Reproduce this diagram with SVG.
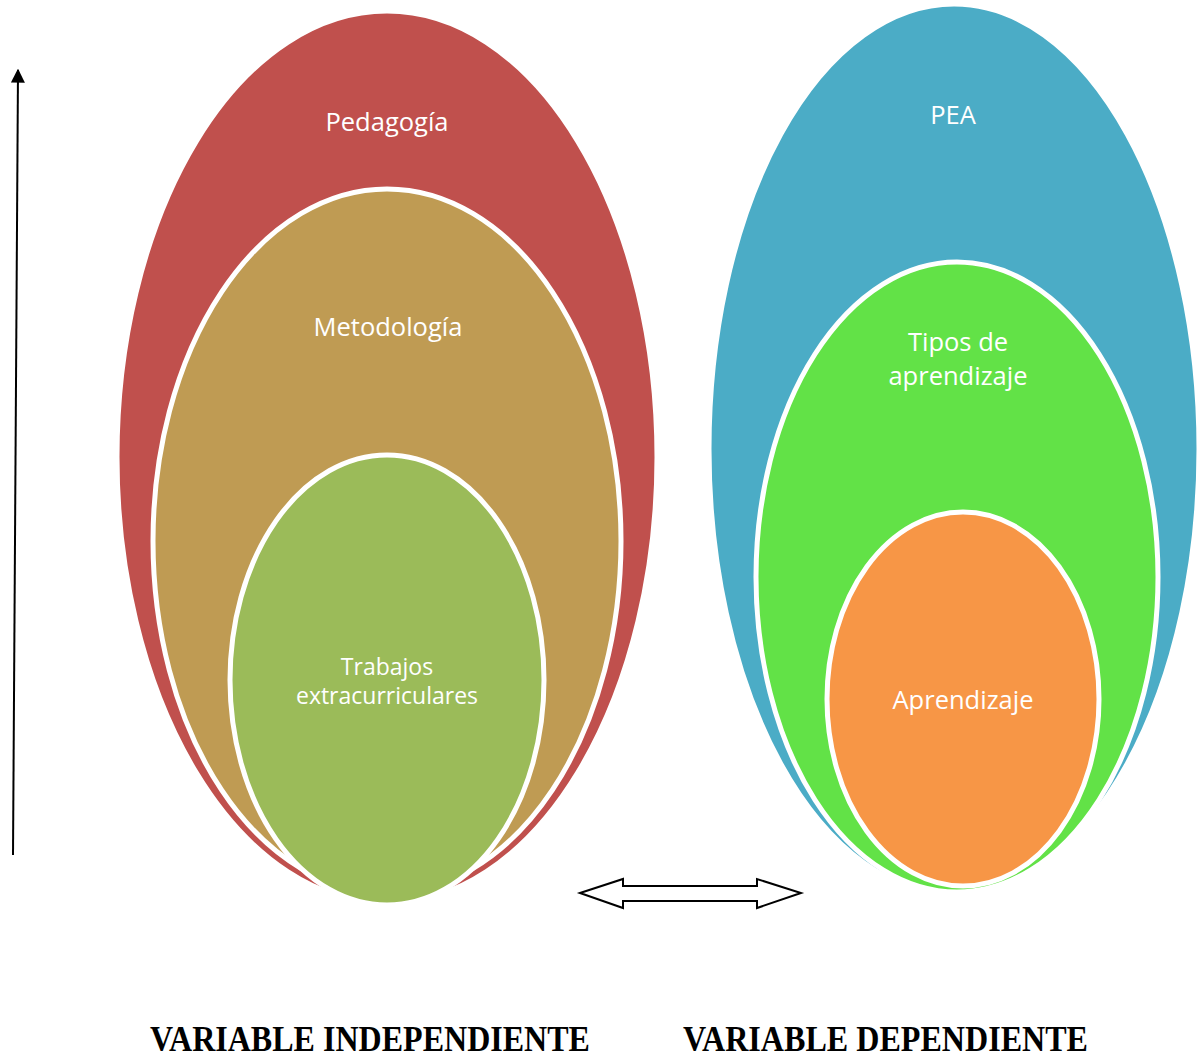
<svg xmlns="http://www.w3.org/2000/svg" width="1197" height="1058" viewBox="0 0 1197 1058">
<defs>
<style>
.e{stroke:#ffffff;stroke-width:5}
.t{font-family:"Open Sans","Liberation Sans",sans-serif;font-size:25.5px;fill:#ffffff;text-anchor:middle}
.b{font-family:"Liberation Serif","Times New Roman",serif;font-size:36px;font-weight:bold;fill:#000000}
</style>
<marker id="ah" viewBox="0 0 10 10" refX="9" refY="5" markerWidth="7" markerHeight="9" orient="auto" markerUnits="strokeWidth">
<path d="M0,0 L10,5 L0,10 z" fill="#000"/>
</marker>
</defs>
<rect width="1197" height="1058" fill="#ffffff"/>
<g id="pedagogia">
<ellipse class="e" cx="387" cy="457" rx="270" ry="446" fill="#c0504d"/>
<text class="t" x="387" y="131">Pedagogía</text>
</g>
<g id="metodologia">
<ellipse class="e" cx="387" cy="541" rx="234" ry="352" fill="#bf9b53"/>
<text class="t" x="388" y="336">Metodología</text>
</g>
<g id="trabajos">
<ellipse class="e" cx="387" cy="680" rx="157" ry="225" fill="#9bbb59"/>
<text class="t" x="387" y="675" style="font-size:23px">Trabajos</text>
<text class="t" x="387" y="704" style="font-size:23px">extracurriculares</text>
</g>
<g id="pea">
<ellipse class="e" cx="954" cy="449" rx="245" ry="445" fill="#4bacc6"/>
<text class="t" x="953" y="124">PEA</text>
</g>
<g id="tipos">
<ellipse class="e" cx="957" cy="577" rx="201" ry="315" fill="#62e247"/>
<text class="t" x="958" y="351">Tipos de</text>
<text class="t" x="958" y="385">aprendizaje</text>
</g>
<g id="aprendizaje">
<ellipse class="e" cx="963" cy="699" rx="136" ry="187" fill="#f79646"/>
<text class="t" x="963" y="709">Aprendizaje</text>
</g>
<g id="connectors">
<line x1="13" y1="855" x2="18" y2="70" stroke="#000" stroke-width="2" marker-end="url(#ah)"/>
<path d="M580,893 L623,879 L623,886 L757,886 L757,879 L801,893 L757,908 L757,901 L623,901 L623,908 Z" fill="#ffffff" stroke="#000" stroke-width="2" stroke-linejoin="miter"/>
</g>
<g id="labels">
<text class="b" x="150" y="1051" textLength="440" lengthAdjust="spacingAndGlyphs">VARIABLE INDEPENDIENTE</text>
<text class="b" x="683" y="1051" textLength="405" lengthAdjust="spacingAndGlyphs">VARIABLE DEPENDIENTE</text>
</g>
</svg>
